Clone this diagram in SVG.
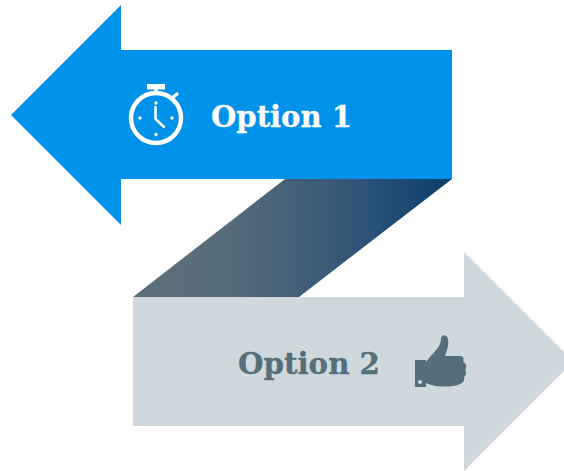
<svg xmlns="http://www.w3.org/2000/svg" width="564" height="471" viewBox="0 0 564 471">
<defs>
<linearGradient id="g" gradientUnits="userSpaceOnUse" x1="133" y1="0" x2="452" y2="0">
<stop offset="0" stop-color="#5c7079"/><stop offset="0.3" stop-color="#566b79"/><stop offset="0.7" stop-color="#315578"/><stop offset="1" stop-color="#0b3c6b"/>
</linearGradient>
</defs>
<style>
.t{font-family:"DejaVu Serif","Liberation Serif",serif;font-weight:700;font-size:30px;stroke-width:.3px}
.w{fill:none;stroke:#fff;stroke-linecap:round}
</style>
<rect width="564" height="471" fill="#fff"/>
<g id="connectors">
<path d="M285 179H452L299 297H133Z" fill="url(#g)"/>
</g>
<g id="option-1">
<path d="M121 5V50H452V179H121V225L11 115Z" fill="#0091ea"/>
<g id="stopwatch">
<circle cx="156" cy="118" r="25" class="w" stroke-width="4.500"/>
<rect x="147" y="84" width="18" height="5.500" fill="#fff"/>
<path d="M156 88V93" class="w" stroke-width="3.500"/>
<path d="M172 98L177 94" class="w" stroke-width="3.500"/>
<path d="M155.500 107V119L164 127" class="w" stroke-width="2.500"/>
<g fill="#fff"><circle cx="156" cy="103" r="1.700"/><circle cx="156" cy="134.500" r="1.700"/><circle cx="140" cy="118" r="1.700"/><circle cx="172" cy="118" r="1.700"/></g>
</g>
<text class="t" x="211" y="127" textLength="141" lengthAdjust="spacingAndGlyphs" fill="#fff" stroke="#fff">Option 1</text>
</g>
<g id="option-2">
<path d="M133 297H464V252L564 352V371L464 471V426H133Z" fill="#cfd8dc"/>
<text class="t" x="238" y="374" textLength="142" lengthAdjust="spacingAndGlyphs" fill="#546e7a" stroke="#546e7a">Option 2</text>
<path id="thumb" fill="#546e7a" fill-rule="evenodd" d="M415 360H426V362L430 357C435 351 441 346 441 339C441 334 447 334 448 339C449 345 447 351 445 356H460C464 356 464 360 463 362C467 363 467 368 465 370C467 372 466 376 464 377C465 380 463 383 460 384C454 387 444 387 436 386C431 385 428 384 426 383V387H415ZM420 380a2 2 0 1 0 0.010 0Z"/>
</g>
</svg>
